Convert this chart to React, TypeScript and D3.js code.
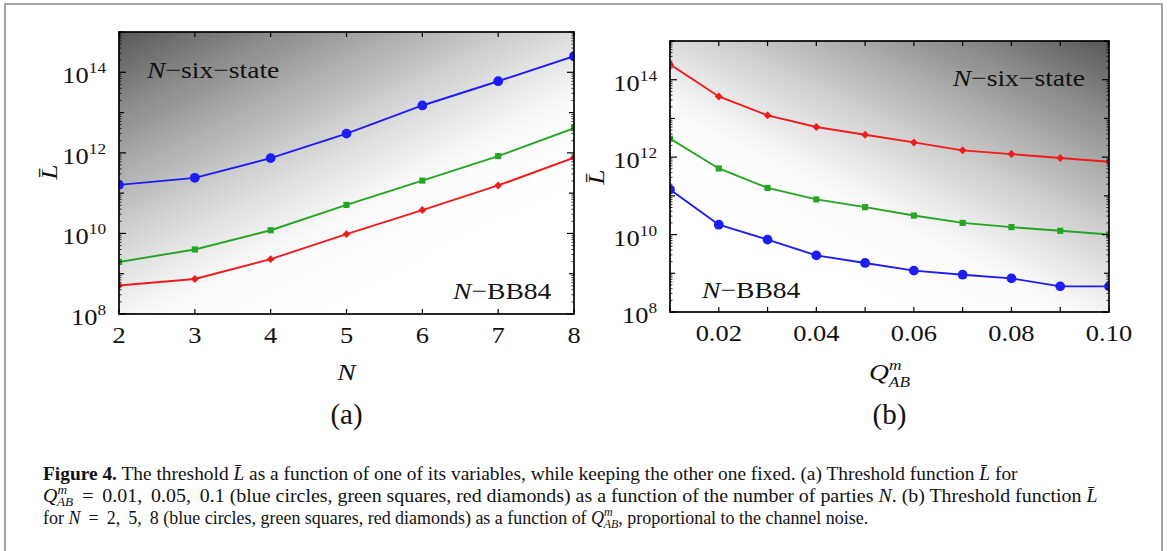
import React, { useRef, useEffect } from 'react';
import * as d3 from 'd3';

// panel (a): threshold vs number of parties N
const nValues = [2, 3, 4, 5, 6, 7, 8];
const blueByN = [1.6e11, 2.4e11, 7.4e11, 3.0e12, 1.5e13, 6.0e13, 2.5e14];
const greenByN = [1.96e9, 4.0e9, 1.2e10, 5.1e10, 2.05e11, 8.3e11, 4.1e12];
const redByN = [5.1e8, 7.4e8, 2.3e9, 9.6e9, 3.8e10, 1.55e11, 7.6e11];

// panel (b): threshold vs Q_AB^m
const qValues = [0.01, 0.02, 0.03, 0.04, 0.05, 0.06, 0.07, 0.08, 0.09, 0.10];
const redByQ = [2.5e14, 3.7e13, 1.2e13, 6.0e12, 3.8e12, 2.4e12, 1.5e12, 1.2e12, 9.5e11, 7.6e11];
const greenByQ = [3.0e12, 5.1e11, 1.6e11, 8.1e10, 5.1e10, 3.1e10, 2.0e10, 1.56e10, 1.25e10, 1.0e10];
const blueByQ = [1.45e11, 1.8e10, 7.4e9, 2.9e9, 1.85e9, 1.17e9, 9.2e8, 7.4e8, 4.6e8, 4.6e8];

const nTickLabels = ['2', '3', '4', '5', '6', '7', '8'];
const qTickValues = [0.02, 0.04, 0.06, 0.08, 0.10];
const qTickLabels = ['0.02', '0.04', '0.06', '0.08', '0.10'];
const yLabelExponents = ['8', '10', '12', '14'];

const SERIF = '"Liberation Serif", "DejaVu Serif", serif';
const BLUE = '#1c1cf5';
const GREEN = '#25a525';
const RED = '#f01c1c';
const SX = 1.15; // the figure's glyphs are a bit wide

export default function App() {
    const svgRef = useRef(null);

    useEffect(() => {
        const svg = d3.select(svgRef.current);
        svg.selectAll('*').remove();

        const defs = svg.append('defs');

        // outer frame
        svg.append('rect')
            .attr('x', 5).attr('y', 4)
            .attr('width', 1157).attr('height', 600)
            .attr('fill', 'none')
            .attr('stroke', '#a3a3a3')
            .attr('stroke-width', 2);

        const stretched = (g, x, y, anchor, size) =>
            g.append('text')
                .attr('transform', `translate(${x},${y}) scale(${SX},1)`)
                .attr('text-anchor', anchor)
                .attr('font-family', SERIF)
                .attr('font-size', size)
                .attr('fill', '#111');

        const drawPanel = (p) => {
            const g = svg.append('g');
            const xScale = d3.scaleLinear().domain(p.xDomain).range([p.left, p.right]);
            const yScale = d3.scaleLog().domain([1e8, 1e15]).range([p.bottom, p.top]);

            // background shading
            const grad = defs.append('linearGradient')
                .attr('id', p.id + '-grad')
                .attr('gradientUnits', 'userSpaceOnUse')
                .attr('x1', p.gx1).attr('y1', p.gy1)
                .attr('x2', p.gx2).attr('y2', p.gy2);
            [[0, '#585858'], [0.2, '#898989'], [0.45, '#bebebe'], [0.64, '#e2e2e2'], [0.8, '#fbfbfb'], [1, '#ffffff']]
                .forEach(([o, c]) => grad.append('stop').attr('offset', o).attr('stop-color', c));

            g.append('rect')
                .attr('x', p.left).attr('y', p.top)
                .attr('width', p.right - p.left).attr('height', p.bottom - p.top)
                .attr('fill', `url(#${p.id}-grad)`);

            defs.append('clipPath').attr('id', p.id + '-clip')
                .append('rect')
                .attr('x', p.left).attr('y', p.top)
                .attr('width', p.right - p.left).attr('height', p.bottom - p.top);

            const plot = g.append('g').attr('clip-path', `url(#${p.id}-clip)`);
            const line = d3.line()
                .x(d => xScale(d[0]))
                .y(d => yScale(d[1]));

            p.series.forEach(s => {
                const pts = p.xs.map((x, i) => [x, s.values[i]]);
                plot.append('path')
                    .datum(pts)
                    .attr('fill', 'none')
                    .attr('stroke', s.color)
                    .attr('stroke-width', 1.9)
                    .attr('d', line);
                plot.selectAll(null)
                    .data(pts)
                    .enter().append('path')
                    .attr('transform', d => `translate(${xScale(d[0])},${yScale(d[1])})`)
                    .attr('fill', s.color)
                    .attr('d', d3.symbol().type(s.symbol).size(s.size)());
            });

            // frame ticks
            const ticks = g.append('g').attr('stroke', '#000').attr('stroke-width', 1.2);
            for (let k = 8; k <= 15; k++) {
                const yy = yScale(Math.pow(10, k));
                const len = k % 2 === 0 ? 7 : 5;
                ticks.append('line').attr('x1', p.left).attr('x2', p.left + len).attr('y1', yy).attr('y2', yy);
                ticks.append('line').attr('x1', p.right).attr('x2', p.right - len).attr('y1', yy).attr('y2', yy);
                if (k < 15) {
                    for (let m = 2; m <= 9; m++) {
                        const ym = yScale(m * Math.pow(10, k));
                        ticks.append('line').attr('x1', p.left).attr('x2', p.left + 2.5).attr('y1', ym).attr('y2', ym).attr('stroke-width', 0.8);
                        ticks.append('line').attr('x1', p.right).attr('x2', p.right - 2.5).attr('y1', ym).attr('y2', ym).attr('stroke-width', 0.8);
                    }
                }
            }
            p.xs.forEach(x => {
                const xx = xScale(x);
                ticks.append('line').attr('x1', xx).attr('x2', xx).attr('y1', p.bottom).attr('y2', p.bottom - 5);
                ticks.append('line').attr('x1', xx).attr('x2', xx).attr('y1', p.top).attr('y2', p.top + 5);
            });

            g.append('rect')
                .attr('x', p.left).attr('y', p.top)
                .attr('width', p.right - p.left).attr('height', p.bottom - p.top)
                .attr('fill', 'none')
                .attr('stroke', '#000')
                .attr('stroke-width', 1.7);

            // y tick labels 10^k
            yLabelExponents.forEach(e => {
                const t = stretched(g, p.left - 13, yScale(Math.pow(10, +e)) + 11, 'end', 23);
                t.append('tspan').text('10');
                t.append('tspan').attr('dy', -10).attr('font-size', 15).text(e);
            });

            // x tick labels
            p.xLabelValues.forEach((x, i) => {
                stretched(g, xScale(x), p.bottom + 29, 'middle', 23).text(p.xLabels[i]);
            });

            // y axis title
            g.append('text')
                .attr('transform', `translate(${p.yTitleX},${p.yTitleY}) rotate(-90) scale(${SX},1)`)
                .attr('text-anchor', 'middle')
                .attr('font-family', SERIF)
                .attr('font-style', 'italic')
                .attr('font-size', 24)
                .attr('fill', '#111')
                .text('L\u0304');

            // x axis title
            const cx = (p.left + p.right) / 2;
            p.xTitle(stretched(g, cx, 380, 'middle', 24));

            // panel tag
            g.append('text')
                .attr('x', cx).attr('y', 424)
                .attr('text-anchor', 'middle')
                .attr('font-family', SERIF)
                .attr('font-size', 29)
                .attr('fill', '#111')
                .text(p.tag);

            // region labels
            const six = stretched(g, p.sixX, p.sixY, p.sixAnchor, 24);
            six.append('tspan').attr('font-style', 'italic').text('N');
            six.append('tspan').text('\u2212six\u2212state');
            const bb = stretched(g, p.bbX, p.bbY, 'start', 24);
            bb.append('tspan').attr('font-style', 'italic').text('N');
            bb.append('tspan').text('\u2212BB84');
        };

        drawPanel({
            id: 'pa', left: 119, right: 574, top: 32, bottom: 314,
            xDomain: [2, 8], xs: nValues,
            xLabelValues: nValues, xLabels: nTickLabels,
            gx1: 119, gy1: 32, gx2: 269, gy2: 332,
            series: [
                { values: blueByN, color: BLUE, symbol: d3.symbolCircle, size: 75 },
                { values: greenByN, color: GREEN, symbol: d3.symbolSquare, size: 38 },
                { values: redByN, color: RED, symbol: d3.symbolDiamond2, size: 40 },
            ],
            yTitleX: 57, yTitleY: 172,
            xTitle: t => t.attr('font-style', 'italic').text('N'),
            tag: '(a)',
            sixX: 147, sixY: 78, sixAnchor: 'start',
            bbX: 453, bbY: 299,
        });

        drawPanel({
            id: 'pb', left: 670, right: 1109, top: 41, bottom: 312,
            xDomain: [0.01, 0.10], xs: qValues,
            xLabelValues: qTickValues, xLabels: qTickLabels,
            gx1: 1109, gy1: 41, gx2: 965, gy2: 330,
            series: [
                { values: redByQ, color: RED, symbol: d3.symbolDiamond2, size: 40 },
                { values: greenByQ, color: GREEN, symbol: d3.symbolSquare, size: 38 },
                { values: blueByQ, color: BLUE, symbol: d3.symbolCircle, size: 75 },
            ],
            yTitleX: 604, yTitleY: 177,
            xTitle: t => {
                t.attr('font-style', 'italic');
                t.append('tspan').text('Q');
                t.append('tspan').attr('dy', -10).attr('font-size', 15).text('m');
                t.append('tspan').attr('dx', -11).attr('dy', 17).attr('font-size', 15).text('AB');
            },
            tag: '(b)',
            sixX: 1085, sixY: 86, sixAnchor: 'end',
            bbX: 702, bbY: 298,
        });

        // caption
        const cap = svg.append('g')
            .attr('font-family', SERIF)
            .attr('font-size', 18)
            .attr('fill', '#111');

        // each caption line is stretched to the width it has in the figure
        const capLine = (y, width) => {
            const t = cap.append('text').attr('x', 0).attr('y', 0);
            return { t, fit: () => {
                const len = t.node().getComputedTextLength();
                t.attr('transform', `translate(43,${y}) scale(${width / len},1)`);
            } };
        };

        const c1 = capLine(480, 975);
        const l1 = c1.t;
        l1.append('tspan').attr('font-weight', 'bold').text('Figure 4.');
        l1.append('tspan').text(' The threshold ');
        l1.append('tspan').attr('font-style', 'italic').text('L\u0304');
        l1.append('tspan').text(' as a function of one of its variables, while keeping the other one fixed. (a) Threshold function ');
        l1.append('tspan').attr('font-style', 'italic').text('L\u0304');
        l1.append('tspan').text(' for');
        c1.fit();

        const c2 = capLine(502, 1065);
        const l2 = c2.t;
        l2.append('tspan').attr('font-style', 'italic').text('Q');
        l2.append('tspan').attr('font-style', 'italic').attr('font-size', 12).attr('dy', -8).text('m');
        l2.append('tspan').attr('font-style', 'italic').attr('font-size', 12).attr('dx', -9).attr('dy', 12).text('AB');
        l2.append('tspan').attr('dy', -4).text(' \u2009=\u2009 0.01,\u2009 0.05,\u2009 0.1 (blue circles, green squares, red diamonds) as a function of the number of parties ');
        l2.append('tspan').attr('font-style', 'italic').text('N');
        l2.append('tspan').text('. (b) Threshold function ');
        l2.append('tspan').attr('font-style', 'italic').text('L\u0304');
        c2.fit();

        const c3 = capLine(524, 835);
        const l3 = c3.t;
        l3.append('tspan').text('for ');
        l3.append('tspan').attr('font-style', 'italic').text('N');
        l3.append('tspan').text(' \u2009=\u2009 2,\u2009 5,\u2009 8 (blue circles, green squares, red diamonds) as a function of ');
        l3.append('tspan').attr('font-style', 'italic').text('Q');
        l3.append('tspan').attr('font-style', 'italic').attr('font-size', 12).attr('dy', -8).text('m');
        l3.append('tspan').attr('font-style', 'italic').attr('font-size', 12).attr('dx', -9).attr('dy', 12).text('AB');
        l3.append('tspan').attr('dy', -4).text(', proportional to the channel noise.');
        c3.fit();

        return () => {
            d3.select(svgRef.current).selectAll('*').remove();
        };
    }, []);

    return (
        <svg
            ref={svgRef}
            width={1168}
            height={551}
            style={{ position: 'absolute', left: 0, top: 0, background: '#fff' }}
        ></svg>
    );
}
